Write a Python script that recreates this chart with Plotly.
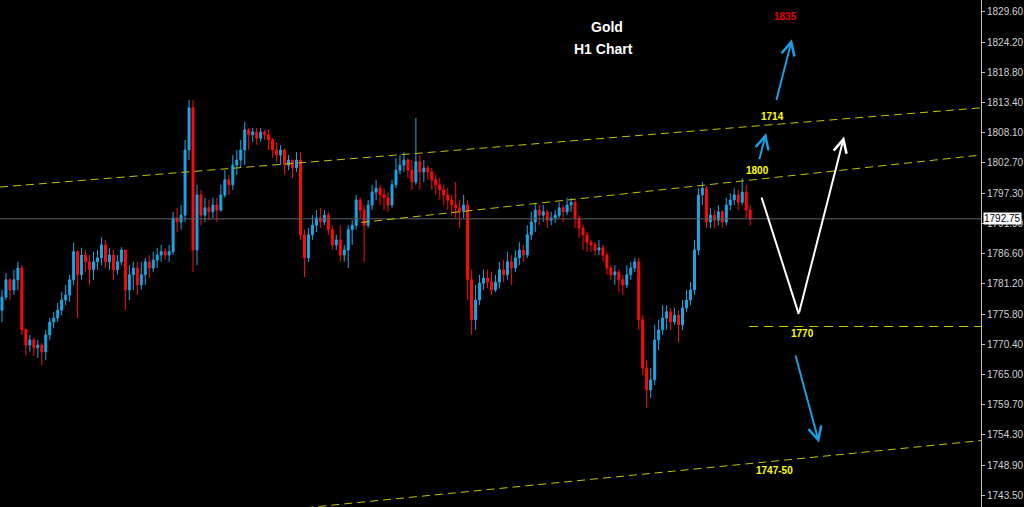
import plotly.graph_objects as go

# ---------------- data (Gold H1) ----------------
first_open = 1776.5
close = [
    1778.8, 1781.9, 1780.1, 1781.9, 1784.0, 1773.0, 1770.3, 1771.2, 1769.8, 1770.3,
    1769.1, 1772.1, 1774.4, 1775.1, 1776.5, 1778.3, 1779.2, 1781.9, 1786.9, 1782.8,
    1786.3, 1785.1, 1783.7, 1785.1, 1785.8, 1788.1, 1785.1, 1786.3, 1783.7, 1785.1,
    1787.2, 1780.1, 1782.8, 1784.0, 1781.0, 1782.8, 1785.1, 1784.0, 1785.4, 1786.3,
    1786.9, 1786.3, 1786.9, 1792.9, 1792.2, 1793.4, 1805.0, 1812.5, 1787.2, 1797.0,
    1793.4, 1794.7, 1794.0, 1795.2, 1794.3, 1797.0, 1799.7, 1798.8, 1802.3, 1803.2,
    1805.0, 1808.6, 1807.7, 1808.2, 1807.1, 1808.2, 1807.7, 1806.8, 1805.0, 1804.1,
    1805.0, 1802.3, 1803.2, 1801.8, 1803.2, 1789.9, 1785.8, 1789.9, 1791.6, 1792.9,
    1792.2, 1793.4, 1790.8, 1788.1, 1789.0, 1786.3, 1787.2, 1790.8, 1791.6, 1796.1,
    1794.3, 1791.6, 1795.2, 1797.5, 1798.2, 1797.0, 1796.5, 1795.2, 1798.8, 1801.4,
    1802.3, 1803.2, 1801.4, 1799.3, 1802.9, 1801.1, 1801.8, 1801.1, 1799.7, 1798.8,
    1797.9, 1797.0, 1796.1, 1795.2, 1794.7, 1794.0, 1795.2, 1781.9, 1774.8, 1778.3,
    1781.3, 1782.2, 1781.5, 1780.1, 1781.5, 1783.7, 1782.8, 1785.1, 1784.0, 1785.8,
    1787.2, 1786.3, 1789.9, 1792.2, 1794.3, 1793.4, 1794.0, 1792.5, 1792.9, 1793.4,
    1794.7, 1794.0, 1795.2, 1795.7, 1792.9, 1791.1, 1789.9, 1788.6, 1788.1, 1787.2,
    1787.6, 1786.3, 1784.0, 1782.8, 1783.3, 1781.9, 1781.0, 1782.8, 1784.0, 1785.1,
    1774.8, 1766.2, 1762.3, 1764.1, 1771.2, 1773.0, 1775.1, 1776.2, 1774.4, 1775.6,
    1773.9, 1776.9, 1778.3, 1780.1, 1787.2, 1797.0, 1798.2, 1792.2, 1793.4, 1792.5,
    1794.0, 1792.2, 1795.2, 1796.1, 1797.0, 1795.7, 1797.5, 1794.3, 1792.75,
]
high = [
    1780.1, 1783.1, 1782.2, 1783.7, 1785.1, 1784.5, 1773.3, 1772.1, 1771.6, 1771.2,
    1770.7, 1773.0, 1775.1, 1776.2, 1777.8, 1779.7, 1781.0, 1782.8, 1788.5, 1787.2,
    1787.6, 1787.2, 1786.3, 1786.9, 1787.2, 1789.5, 1789.0, 1787.6, 1787.2, 1786.3,
    1787.7, 1787.2, 1784.5, 1785.1, 1785.1, 1785.1, 1785.8, 1786.3, 1786.9, 1787.6,
    1788.1, 1787.6, 1788.1, 1794.0, 1794.7, 1795.2, 1806.8, 1813.9, 1813.9, 1798.8,
    1797.9, 1796.5, 1796.1, 1796.5, 1796.5, 1798.8, 1801.4, 1800.6, 1804.1, 1805.0,
    1806.8, 1810.0, 1808.9, 1808.9, 1808.9, 1808.9, 1808.6, 1808.6, 1807.1, 1806.4,
    1805.9, 1805.3, 1804.1, 1803.2, 1804.6, 1804.6, 1790.8, 1791.1, 1793.4, 1794.3,
    1794.7, 1794.3, 1794.0, 1791.6, 1789.9, 1791.6, 1788.1, 1791.6, 1792.5, 1797.0,
    1796.5, 1795.2, 1796.1, 1798.8, 1799.7, 1798.8, 1798.2, 1797.5, 1799.7, 1803.6,
    1804.1, 1804.6, 1803.6, 1803.2, 1810.7, 1804.1, 1803.2, 1802.3, 1801.8, 1800.6,
    1800.0, 1798.8, 1798.2, 1797.0, 1799.3, 1796.1, 1797.0, 1796.1, 1783.7, 1781.0,
    1782.8, 1783.7, 1783.7, 1783.3, 1782.8, 1785.1, 1785.4, 1786.9, 1786.3, 1787.2,
    1788.6, 1788.1, 1791.6, 1794.0, 1795.6, 1795.2, 1795.2, 1794.3, 1794.0, 1794.3,
    1795.7, 1795.2, 1796.5, 1796.5, 1796.1, 1793.4, 1791.6, 1790.4, 1789.0, 1788.6,
    1789.0, 1788.1, 1786.9, 1784.5, 1784.5, 1783.7, 1782.8, 1784.5, 1785.1, 1785.8,
    1785.8, 1775.6, 1767.6, 1766.2, 1773.9, 1774.8, 1777.4, 1777.4, 1776.9, 1776.9,
    1776.5, 1778.3, 1780.1, 1781.5, 1789.0, 1798.2, 1799.3, 1798.6, 1794.7, 1794.3,
    1795.2, 1794.3, 1796.5, 1797.3, 1798.2, 1797.9, 1800.0, 1798.8, 1795.2,
]
low = [
    1774.4, 1778.3, 1778.3, 1779.2, 1780.1, 1772.1, 1768.5, 1769.1, 1768.3, 1768.0,
    1766.7, 1767.6, 1771.2, 1773.3, 1774.4, 1775.6, 1777.4, 1778.0, 1781.0, 1775.1,
    1781.9, 1783.3, 1781.0, 1781.9, 1783.7, 1784.5, 1784.0, 1783.7, 1781.9, 1782.8,
    1784.5, 1776.5, 1778.3, 1780.1, 1779.2, 1780.1, 1781.0, 1782.2, 1783.3, 1784.0,
    1785.1, 1785.4, 1785.1, 1786.3, 1790.4, 1790.8, 1792.2, 1803.2, 1783.3, 1784.5,
    1791.6, 1792.2, 1792.5, 1792.9, 1792.2, 1794.0, 1796.5, 1797.0, 1797.9, 1800.6,
    1801.8, 1802.3, 1805.0, 1806.4, 1805.9, 1806.4, 1806.8, 1805.0, 1803.6, 1802.9,
    1802.3, 1800.6, 1801.4, 1800.0, 1801.1, 1789.0, 1782.4, 1785.1, 1789.0, 1790.4,
    1791.1, 1791.6, 1789.9, 1787.2, 1787.2, 1785.1, 1785.1, 1784.0, 1788.1, 1790.8,
    1792.9, 1785.1, 1791.1, 1794.3, 1796.1, 1795.2, 1794.3, 1794.0, 1794.7, 1798.2,
    1800.6, 1801.1, 1800.0, 1797.9, 1798.8, 1797.9, 1799.3, 1799.7, 1797.9, 1797.0,
    1796.1, 1795.2, 1794.3, 1793.4, 1792.9, 1791.1, 1792.9, 1778.3, 1772.1, 1773.0,
    1777.4, 1780.1, 1780.4, 1779.2, 1779.7, 1780.4, 1781.5, 1781.9, 1781.0, 1783.3,
    1784.5, 1785.1, 1785.8, 1789.0, 1790.4, 1791.6, 1792.2, 1791.1, 1791.6, 1792.0,
    1792.9, 1792.2, 1793.4, 1794.0, 1791.1, 1789.3, 1787.2, 1786.9, 1786.9, 1786.3,
    1786.3, 1785.1, 1782.8, 1781.9, 1781.0, 1779.7, 1779.2, 1780.4, 1781.9, 1783.3,
    1773.0, 1765.0, 1759.1, 1760.9, 1763.2, 1769.4, 1772.1, 1773.0, 1773.0, 1773.9,
    1770.8, 1773.0, 1776.2, 1777.4, 1779.2, 1786.3, 1795.2, 1791.1, 1791.1, 1791.1,
    1791.6, 1791.1, 1791.6, 1794.3, 1795.2, 1794.3, 1795.2, 1792.9, 1791.6,
]
open_ = [first_open] + close[:-1]
bars = list(range(len(close)))

tick_vals = [1829.60, 1824.20, 1818.80, 1813.40, 1808.10, 1802.70, 1797.30, 1791.90,
             1786.60, 1781.20, 1775.80, 1770.40, 1765.00, 1759.70, 1754.30, 1748.90, 1743.50]
tick_text = [f"{v:.2f}" for v in tick_vals]
last_price = 1792.75

# drawn trend lines: (bar index, price) end points
upper_channel_x = [-0.5, 246]
upper_channel_y = [1798.4, 1812.5]
lower_channel_x = [90.25, 246]
lower_channel_y = [1792.1, 1804.1]
bottom_line_x = [60, 246]
bottom_line_y = [1740.2, 1753.3]
support_x = [187.75, 246]
support_y = [1773.6, 1773.6]

# projection arrows: (tail bar, tail price, head bar, head price)
blue_arrows = [
    (194.5, 1813.6, 198.5, 1824.7),
    (190.2, 1803.1, 192.0, 1808.0),
    (199.3, 1768.7, 205.3, 1752.9),
]
white_path_x = [190.75, 200.2, 211.6]
white_path_y = [1796.8, 1775.8, 1807.4]

# labels: (text, bar, price, colour, size)
labels = [
    ("Gold", 152.0, 1826.9, "#ffffff", 14),
    ("H1 Chart", 151.25, 1823.05, "#ffffff", 14),
    ("1835", 197.0, 1828.7, "#e00000", 10),
    ("1714", 193.5, 1811.0, "#ffff00", 10),
    ("1800", 189.75, 1801.3, "#ffff00", 10),
    ("1770", 201.25, 1772.35, "#ffff00", 10),
    ("1747-50", 194.1, 1747.9, "#ffff00", 10),
]

BLUE = "#19a7e6"
RED = "#ff0a0a"
YEL = "#c4c400"
ARROW_BLUE = "#1a9ee0"

fig = go.Figure()

fig.add_trace(go.Scatter(x=[-0.5, 246], y=[last_price, last_price], mode="lines",
                         line=dict(color="#5c6066", width=1), hoverinfo="skip", showlegend=False))

fig.add_trace(go.Candlestick(
    x=bars, open=open_, high=high, low=low, close=close,
    increasing=dict(line=dict(color=BLUE, width=1), fillcolor=BLUE),
    decreasing=dict(line=dict(color=RED, width=1), fillcolor=RED),
    whiskerwidth=0, showlegend=False, hoverinfo="skip"))

for lx, ly in [(upper_channel_x, upper_channel_y), (lower_channel_x, lower_channel_y),
               (bottom_line_x, bottom_line_y)]:
    fig.add_trace(go.Scatter(x=lx, y=ly, mode="lines",
                             line=dict(color=YEL, width=1, dash="8px,5px"),
                             hoverinfo="skip", showlegend=False))
fig.add_trace(go.Scatter(x=support_x, y=support_y, mode="lines",
                         line=dict(color="#d0d000", width=1, dash="9px,6px"),
                         hoverinfo="skip", showlegend=False))

annotations = []
for tx, ty, hx, hy in blue_arrows:
    annotations.append(dict(x=hx, y=hy, ax=tx, ay=ty, xref="x", yref="y", axref="x", ayref="y",
                            text="", showarrow=True, arrowhead=5, arrowsize=1.3,
                            arrowwidth=2, arrowcolor=ARROW_BLUE, standoff=0))
annotations.append(dict(x=white_path_x[1], y=white_path_y[1], ax=white_path_x[0], ay=white_path_y[0],
                        xref="x", yref="y", axref="x", ayref="y", text="", showarrow=True,
                        arrowhead=0, arrowwidth=2, arrowcolor="#ffffff"))
annotations.append(dict(x=white_path_x[2], y=white_path_y[2], ax=white_path_x[1], ay=white_path_y[1],
                        xref="x", yref="y", axref="x", ayref="y", text="", showarrow=True,
                        arrowhead=5, arrowsize=1.3, arrowwidth=2, arrowcolor="#ffffff", standoff=0))
for txt, bx, py, col, sz in labels:
    annotations.append(dict(x=bx, y=py, xref="x", yref="y", text=f"<b>{txt}</b>", showarrow=False,
                            font=dict(family="Liberation Sans, Arial", size=sz, color=col)))
annotations.append(dict(x=1, xref="paper", xanchor="left", xshift=2, y=last_price, yref="y",
                        text=f"{last_price:.2f}", showarrow=False, bgcolor="#ffffff", borderpad=0,
                        font=dict(family="Liberation Sans Narrow, Liberation Sans, Arial", size=10, color="#000000")))

fig.update_layout(
    width=1024, height=507,
    margin=dict(l=0, r=38, t=0, b=0),
    paper_bgcolor="#000000", plot_bgcolor="#000000",
    annotations=annotations,
    xaxis=dict(visible=False, range=[-0.5, 246], rangeslider=dict(visible=False), fixedrange=True),
    yaxis=dict(side="right", range=[1741.48, 1831.68], showgrid=False, zeroline=False,
               showline=True, linecolor="#c0c0c0", linewidth=1,
               ticks="outside", ticklen=3, tickcolor="#c0c0c0",
               tickvals=tick_vals, ticktext=tick_text,
               tickfont=dict(family="Liberation Sans Narrow, Liberation Sans, Arial", size=10, color="#d0d0d0"),
               fixedrange=True),
)

fig.write_html("out.html", config={"displayModeBar": False},
               post_script="document.body.style.margin='0';document.body.style.background='#000';")
